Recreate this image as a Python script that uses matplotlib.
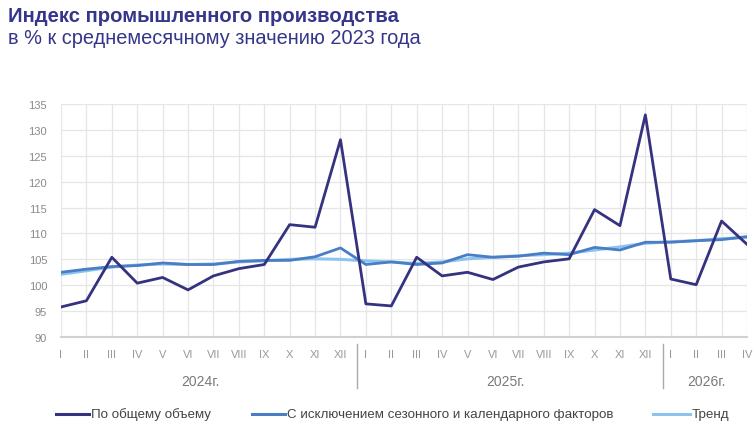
import matplotlib.pyplot as plt
from matplotlib.lines import Line2D
import numpy as np

plt.rcParams['font.family'] = ['Liberation Sans', 'DejaVu Sans']

months = ["I", "II", "III", "IV", "V", "VI", "VII", "VIII", "IX", "X", "XI", "XII"]
labels = months + months + months[:4]
years = ["2024г.", "2025г.", "2026г."]

total = [95.8, 97.0, 105.4, 100.4, 101.5, 99.1, 101.8, 103.2, 104.0, 111.7, 111.2, 128.1,
         96.4, 96.0, 105.4, 101.8, 102.5, 101.1, 103.5, 104.5, 105.1, 114.6, 111.5, 132.9,
         101.2, 100.1, 112.4, 107.9]
seasonal = [102.5, 103.1, 103.6, 103.8, 104.3, 104.0, 104.0, 104.6, 104.8, 104.8, 105.5, 107.2,
            104.0, 104.5, 104.0, 104.3, 105.9, 105.4, 105.6, 106.2, 105.9, 107.3, 106.8, 108.3,
            108.3, 108.6, 108.8, 109.4]
trend = [102.1, 102.8, 103.5, 103.9, 104.1, 104.0, 104.1, 104.5, 104.7, 105.0, 105.1, 105.0,
         104.7, 104.5, 104.2, 104.5, 105.1, 105.4, 105.7, 105.9, 106.2, 106.8, 107.4, 108.1,
         108.4, 108.6, 109.0, 109.2]

c_total, c_seas, c_trend = "#35327f", "#4a7ec4", "#8cc4f0"

x = np.arange(len(total))

fig = plt.figure(figsize=(7.55, 4.27), dpi=100)
ax = fig.add_axes([61/755, (427-338)/427, (747-61)/755, (338-105)/427])

ax.plot(x, trend, color=c_trend, lw=2.2, zorder=3)
ax.plot(x, seasonal, color=c_seas, lw=2.0, zorder=4)
ax.plot(x, total, color=c_total, lw=2.0, zorder=5)

ax.set_xlim(0, len(total) - 1)
ax.set_ylim(90, 135)
ax.set_yticks(range(90, 136, 5))
ax.set_xticks(x)
ax.set_xticklabels(labels)
ax.grid(True, color="#e6e6e6", lw=0.9)
ax.set_axisbelow(True)
for s in ["top", "right", "left"]:
    ax.spines[s].set_visible(False)
ax.spines["bottom"].set_color("#d0d0d0")
ax.spines["bottom"].set_linewidth(1.5)
ax.tick_params(axis="both", length=0, colors="#8a8a8a", labelsize=8)
ax.tick_params(axis="x", pad=9, colors="#999999")
ax.tick_params(axis="y", pad=10)

# year separators and labels
for xs in [11.65, 23.69]:
    ax.plot([xs, xs], [-0.03, -0.22], transform=ax.get_xaxis_transform(),
            color="#aaaaaa", lw=1, clip_on=False)
for xp, yr in zip([5.5, 17.5, 25.4], years):
    ax.text(xp, -0.19, yr, transform=ax.get_xaxis_transform(), ha="center", va="center",
            fontsize=10, color="#7a7a7a")

fig.text(8/755, 1 - 16/427, "Индекс промышленного производства", fontsize=14.6,
         fontweight="bold", color="#35358a", va="center", ha="left")
fig.text(8/755, 1 - 38/427, "в % к среднемесячному значению 2023 года", fontsize=14.4,
         color="#35358a", va="center", ha="left")

# legend, drawn by hand
leg = [(56, 89, c_total, "По общему объему"),
       (252, 285, c_seas, "С исключением сезонного и календарного факторов"),
       (653, 690, c_trend, "Тренд")]
ly = 1 - 415/427
for x0, x1, col, txt in leg:
    fig.add_artist(Line2D([x0/755, x1/755], [ly, ly], color=col, lw=2.2))
    fig.text((x1 + 2)/755, ly, txt, fontsize=9.6, color="#444444", va="center", ha="left")

fig.savefig("out.png", dpi=100)
